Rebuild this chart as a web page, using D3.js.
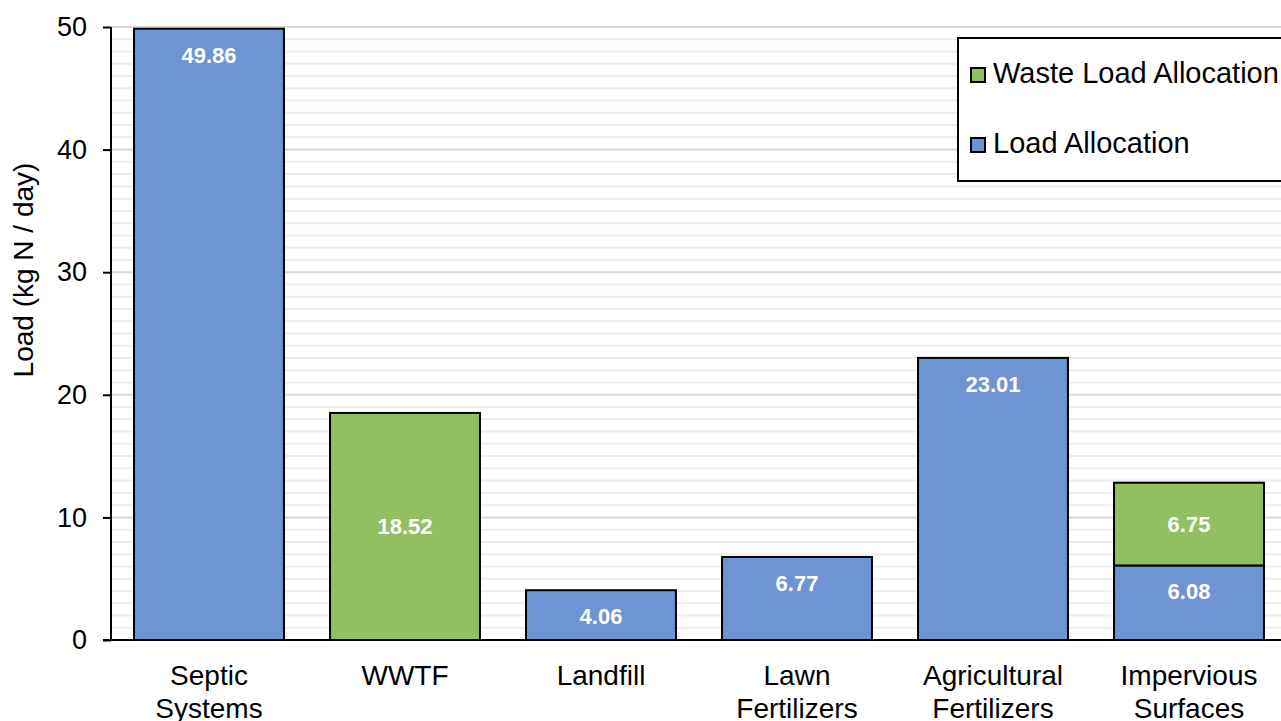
<!DOCTYPE html>
<html><head><meta charset="utf-8">
<script src="https://cdn.jsdelivr.net/npm/d3@7"></script>
<style>body{margin:0;background:#fff;} text{font-family:"Liberation Sans",Arial,sans-serif;}</style>
</head><body>
<svg id="c" width="1281" height="721"></svg>
<script>
const categories = [["Septic","Systems"],["WWTF"],["Landfill"],["Lawn","Fertilizers"],["Agricultural","Fertilizers"],["Impervious","Surfaces"]];
const loadAllocation = [49.86, 0, 4.06, 6.77, 23.01, 6.08];
const wasteLoadAllocation = [0, 18.52, 0, 0, 0, 6.75];
const yTicks = [0,10,20,30,40,50];
const seriesNames = ["Waste Load Allocation","Load Allocation"];
const colors = {la:"#6F94D3", wla:"#92C060"};

(function(){
const svg = d3.select("#c");
const pL = 111, pT = 27, pB = 640, pR = 1287;
const x = d3.scaleBand().domain(d3.range(categories.length)).range([pL,pR]).paddingInner(0.235).paddingOuter(0.1175);
const y = d3.scaleLinear().domain([0,50]).range([pB,pT]);

// minor gridlines
svg.append("g").selectAll("line").data(d3.range(1,51).filter(v=>v%10!==0)).join("line")
  .attr("x1",pL).attr("x2",1281).attr("y1",d=>y(d)).attr("y2",d=>y(d))
  .attr("stroke","#ececec").attr("stroke-width",2);
svg.append("g").selectAll("line").data(yTicks.slice(1)).join("line")
  .attr("x1",pL).attr("x2",1281).attr("y1",d=>y(d)).attr("y2",d=>y(d))
  .attr("stroke","#d9d9d9").attr("stroke-width",2);

const data = categories.map((c,i)=>({i, la:loadAllocation[i], wla:wasteLoadAllocation[i]}));
const stacks = d3.stack().keys(["la","wla"])(data);

stacks.forEach(s=>{
  const key = s.key;
  const g = svg.append("g");
  s.forEach((d,i)=>{
    const v = d[1]-d[0];
    if (v<=0) return;
    g.append("rect").attr("x",x(i)).attr("width",x.bandwidth())
      .attr("y",y(d[1])).attr("height",y(d[0])-y(d[1]))
      .attr("fill",colors[key]).attr("stroke","#000").attr("stroke-width",2);
    const ty = key==="la" ? y(d[1])+26 : (y(d[0])+y(d[1]))/2;
    g.append("text").attr("x",x(i)+x.bandwidth()/2).attr("y",ty).attr("dy","0.36em")
      .attr("text-anchor","middle").attr("fill","#fff").attr("font-weight","bold")
      .attr("font-size",22).text(v.toFixed(2));
  });
});

// axes
const yAxis = svg.append("g").attr("transform",`translate(${pL},0)`)
  .call(d3.axisLeft(y).tickValues(yTicks).tickSize(8).tickPadding(16).tickFormat(d3.format("d")));
yAxis.select(".domain").attr("stroke","#000").attr("stroke-width",2).attr("d",`M0,${pB}V${pT}`);
yAxis.selectAll(".tick line").attr("stroke","#000").attr("stroke-width",2);
yAxis.selectAll(".tick text").attr("font-size",27).attr("fill","#000").attr("font-family","Liberation Sans, Arial, sans-serif");

svg.append("line").attr("x1",pL-8).attr("x2",1281).attr("y1",pB).attr("y2",pB).attr("stroke","#000").attr("stroke-width",2);

// category labels
categories.forEach((c,i)=>{
  const t = svg.append("text").attr("x",x(i)+x.bandwidth()/2).attr("y",685)
    .attr("text-anchor","middle").attr("font-size",28).attr("fill","#000");
  c.forEach((line,j)=>t.append("tspan").attr("x",x(i)+x.bandwidth()/2).attr("dy",j?33:0).text(line));
});

// y title
svg.append("text").attr("transform","translate(33,270) rotate(-90)").attr("text-anchor","middle")
  .attr("font-size",28).attr("fill","#000").text("Load (kg N / day)");

// legend
const lg = svg.append("g");
lg.append("rect").attr("x",958).attr("y",38).attr("width",340).attr("height",143).attr("fill","#fff").attr("stroke","#000").attr("stroke-width",2);
const legendItems = [{name:seriesNames[0],color:colors.wla,y:75,base:83},{name:seriesNames[1],color:colors.la,y:145,base:153}];
legendItems.forEach(it=>{
  lg.append("rect").attr("x",971).attr("y",it.y-7).attr("width",14).attr("height",14).attr("fill",it.color).attr("stroke","#000").attr("stroke-width",2);
  lg.append("text").attr("x",993).attr("y",it.base).attr("font-size",29).attr("fill","#000").text(it.name);
});
})();
</script>
</body></html>
